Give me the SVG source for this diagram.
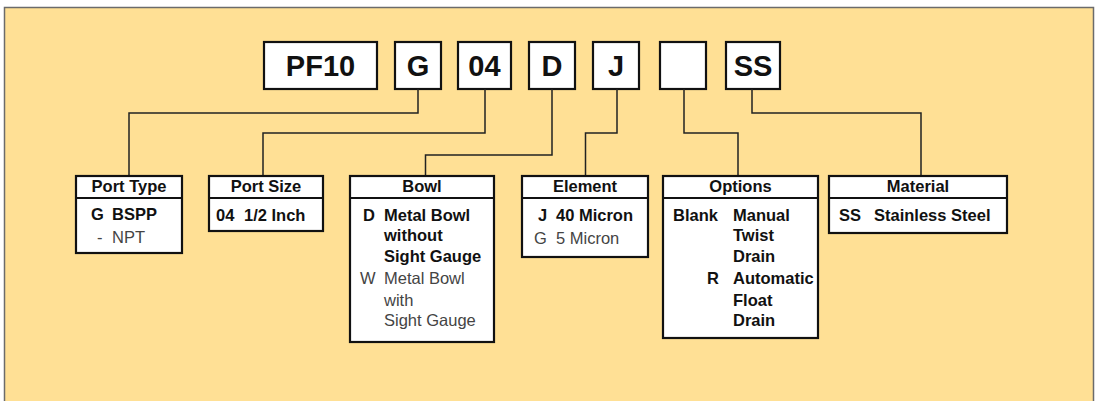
<svg xmlns="http://www.w3.org/2000/svg" width="1100" height="401" viewBox="0 0 1100 401">
<style>
.panel{fill:#FFE095;stroke:#6b6b6b;stroke-width:1.5}
.code{fill:#fff;stroke:#111;stroke-width:2.2}
.codet{font-family:"Liberation Sans",Arial,sans-serif;font-weight:bold;font-size:29px;fill:#111;text-anchor:middle}
.box{fill:#fff;stroke:#111;stroke-width:2.2}
.sep{stroke:#111;stroke-width:2}
.hd{font-family:"Liberation Sans",Arial,sans-serif;font-weight:bold;font-size:16.5px;fill:#111;text-anchor:middle}
.b{font-family:"Liberation Sans",Arial,sans-serif;font-weight:bold;font-size:16.5px;fill:#111}
.r{font-family:"Liberation Sans",Arial,sans-serif;font-size:16.5px;fill:#444}
.conn{fill:none;stroke:#222;stroke-width:1.5}
</style>
<rect class="panel" x="4.5" y="7.5" width="1089" height="400"/>
<g id="codes">
<g id="c-pf10"><rect class="code" x="264" y="42" width="113" height="47"/><text class="codet" x="320.5" y="75.5">PF10</text></g>
<g id="c-g"><rect class="code" x="395" y="42" width="46" height="47"/><text class="codet" x="418" y="75.5">G</text></g>
<g id="c-04"><rect class="code" x="458" y="42" width="53" height="47"/><text class="codet" x="484.5" y="75.5">04</text></g>
<g id="c-d"><rect class="code" x="529" y="42" width="46" height="47"/><text class="codet" x="552" y="75.5">D</text></g>
<g id="c-j"><rect class="code" x="593" y="42" width="46" height="47"/><text class="codet" x="616" y="75.5">J</text></g>
<g id="c-blank"><rect class="code" x="660" y="42" width="46" height="47"/></g>
<g id="c-ss"><rect class="code" x="726" y="42" width="54" height="47"/><text class="codet" x="753" y="75.5">SS</text></g>
</g>
<g id="connectors">
<polyline class="conn" points="418,89 418,113 129,113 129,176"/>
<polyline class="conn" points="485,89 485,133 263,133 263,176"/>
<polyline class="conn" points="552,89 552,155 425.5,155 425.5,176"/>
<polyline class="conn" points="617,89 617,133 585.5,133 585.5,176"/>
<polyline class="conn" points="684,89 684,133 738,133 738,176"/>
<polyline class="conn" points="752,89 752,113 921,113 921,176"/>
</g>
<g id="port-type">
<rect class="box" x="76" y="176" width="106" height="77"/><line class="sep" x1="76" y1="198" x2="182" y2="198"/>
<text class="hd" x="129" y="192">Port Type</text>
<text class="b" x="91" y="220">G</text><text class="b" x="112" y="220">BSPP</text>
<text class="r" x="97" y="243">-</text><text class="r" x="112" y="243">NPT</text>
</g>
<g id="port-size">
<rect class="box" x="209" y="176" width="114" height="55"/><line class="sep" x1="209" y1="198" x2="323" y2="198"/>
<text class="hd" x="266" y="192">Port Size</text>
<text class="b" x="216" y="221">04</text><text class="b" x="244" y="221">1/2 Inch</text>
</g>
<g id="bowl">
<rect class="box" x="350" y="176" width="144" height="166"/><line class="sep" x1="350" y1="198" x2="494" y2="198"/>
<text class="hd" x="422" y="192">Bowl</text>
<text class="b" x="363" y="221">D</text><text class="b" x="384" y="221">Metal Bowl</text>
<text class="b" x="384" y="241">without</text>
<text class="b" x="384" y="262">Sight Gauge</text>
<text class="r" x="360" y="284">W</text><text class="r" x="384" y="284">Metal Bowl</text>
<text class="r" x="384" y="306">with</text>
<text class="r" x="384" y="326">Sight Gauge</text>
</g>
<g id="element">
<rect class="box" x="522" y="176" width="126" height="81"/><line class="sep" x1="522" y1="198" x2="648" y2="198"/>
<text class="hd" x="585" y="192">Element</text>
<text class="b" x="538" y="221">J</text><text class="b" x="556" y="221">40 Micron</text>
<text class="r" x="534" y="244">G</text><text class="r" x="556" y="244">5 Micron</text>
</g>
<g id="options">
<rect class="box" x="663" y="176" width="155" height="162"/><line class="sep" x1="663" y1="198" x2="818" y2="198"/>
<text class="hd" x="740.5" y="192">Options</text>
<text class="b" x="673" y="221">Blank</text><text class="b" x="733" y="221">Manual</text>
<text class="b" x="733" y="241">Twist</text>
<text class="b" x="733" y="262">Drain</text>
<text class="b" x="707" y="284">R</text><text class="b" x="733" y="284">Automatic</text>
<text class="b" x="733" y="306">Float</text>
<text class="b" x="733" y="326">Drain</text>
</g>
<g id="material">
<rect class="box" x="829" y="176" width="178" height="57"/><line class="sep" x1="829" y1="198" x2="1007" y2="198"/>
<text class="hd" x="918" y="192">Material</text>
<text class="b" x="839" y="221">SS</text><text class="b" x="874" y="221">Stainless Steel</text>
</g>
</svg>
